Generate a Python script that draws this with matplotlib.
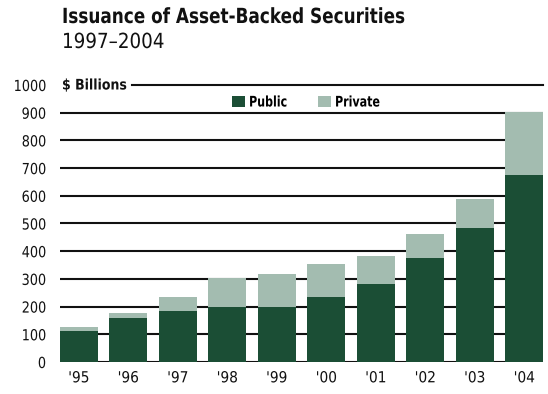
"""Stacked bars: public vs private asset-backed securities issuance."""

import matplotlib.pyplot as plt
from matplotlib.patheffects import AbstractPathEffect
from matplotlib.transforms import Affine2D

years = ["'95", "'96", "'97", "'98", "'99", "'00", "'01", "'02", "'03", "'04"]
public = [113, 158, 185, 200, 200, 236, 282, 375, 485, 675]
private = [15, 20, 51, 102, 118, 118, 101, 88, 103, 227]
yticks = [0, 100, 200, 300, 400, 500, 600, 700, 800, 900, 1000]

DARK = '#1b4e35'
LIGHT = '#a3bcb0'
INK = '#111111'


class Squeeze(AbstractPathEffect):
    """Narrow the glyphs horizontally, keeping the given edge in place."""

    def __init__(self, sx=0.8, anchor='left'):
        super().__init__()
        self.sx = sx
        self.anchor = anchor

    def draw_path(self, renderer, gc, tpath, affine, rgbFace=None):
        ext = tpath.get_extents()
        x0 = {'left': 0.0, 'right': ext.x1, 'center': (ext.x0 + ext.x1) / 2}[self.anchor]
        t = Affine2D().translate(-x0, 0).scale(self.sx, 1).translate(x0, 0) + affine
        renderer.draw_path(gc, tpath, t, rgbFace)


W, H = 548, 394
fig = plt.figure(figsize=(W / 100, H / 100), dpi=100)
ax = fig.add_axes([60 / W, 32 / H, 483 / W, 277 / H])

x = list(range(len(years)))
ax.bar(x, public, width=0.76, color=DARK, label='Public', zorder=3)
ax.bar(x, private, width=0.76, bottom=public, color=LIGHT, label='Private', zorder=3)

# horizontal rules behind the bars; top rule starts after the unit label
for v in yticks[:-1]:
    ax.axhline(v, color=INK, lw=1.5, zorder=1)
ax.axhline(1000, xmin=72 / 483, xmax=1, color=INK, lw=1.5, zorder=1, clip_on=False)

ax.set_xlim(-0.38, 9.38)
ax.set_ylim(0, 1000)
ax.set_yticks(yticks)
ax.set_yticklabels([str(v) for v in yticks], fontsize=11)
ax.set_xticks(x)
ax.set_xticklabels(years, fontsize=11)
ax.tick_params(axis='both', length=0, colors=INK)
ax.tick_params(axis='y', pad=10)
ax.tick_params(axis='x', pad=6)
for s in ax.spines.values():
    s.set_visible(False)
for lab in ax.get_yticklabels():
    lab.set_path_effects([Squeeze(0.84, 'right')])
for lab in ax.get_xticklabels():
    lab.set_path_effects([Squeeze(0.9, 'center')])

unit = ax.text(62 / W, 1 - 85 / H, '$ Billions', transform=fig.transFigure,
               fontsize=10.5, fontweight='bold', va='center', ha='left', color=INK)
unit.set_path_effects([Squeeze(0.86)])

leg = ax.legend(loc='center left', bbox_to_anchor=(225 / W, 1 - 102 / H),
                bbox_transform=fig.transFigure, ncol=2, frameon=False, borderpad=0,
                handlelength=0.85, handleheight=0.85, handletextpad=0.3,
                columnspacing=1.3, prop={'size': 10.5, 'weight': 'bold'})
for t in leg.get_texts():
    t.set_path_effects([Squeeze(0.76)])

title = fig.text(62 / W, 1 - 17 / H, 'Issuance of Asset-Backed Securities',
                 fontsize=15, fontweight='bold', va='center', ha='left', color=INK)
title.set_path_effects([Squeeze(0.81)])
sub = fig.text(62 / W, 1 - 42 / H, '1997\u20132004',
               fontsize=15, va='center', ha='left', color=INK)
sub.set_path_effects([Squeeze(0.88)])

fig.savefig('out.png', dpi=100)
